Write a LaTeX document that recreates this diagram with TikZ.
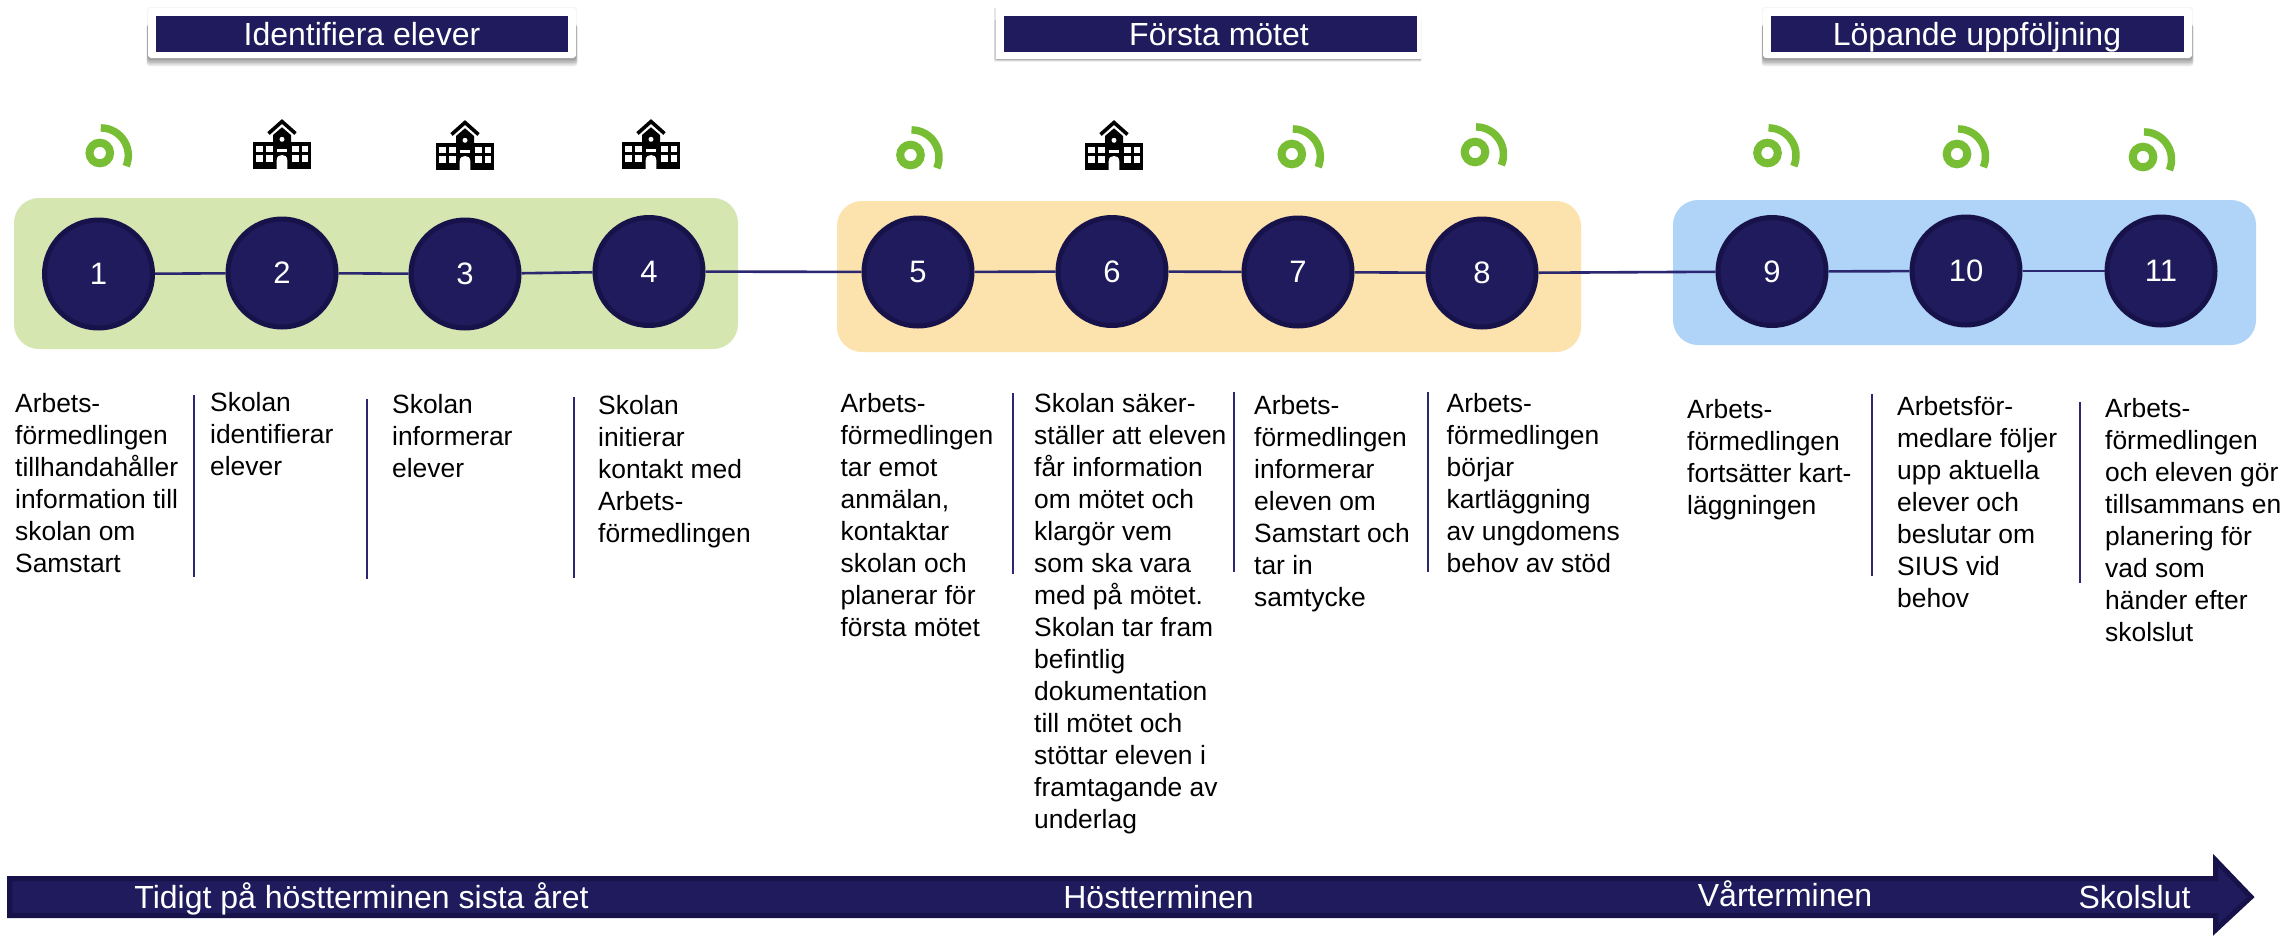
\documentclass[tikz,border=0pt]{standalone}
\usepackage{fontspec}
\setmainfont{Liberation Sans}
\definecolor{navy}{HTML}{1F1B5C}
\definecolor{navydark}{HTML}{17134A}
\definecolor{linenavy}{HTML}{2B2770}
\definecolor{boxgreen}{HTML}{D5E6B0}
\definecolor{boxorange}{HTML}{FCE2AC}
\definecolor{boxblue}{HTML}{B0D3F8}
\definecolor{icongreen}{HTML}{78BE34}
\newcommand{\fl}{\rule{0pt}{24pt}}
\tikzset{
  stepnode/.style={circle,draw=navydark,fill=navy,line width=5pt,minimum size=108pt,inner sep=0pt,text=white,font=\fontsize{31}{36}\selectfont},
  link/.style={draw=linenavy,line width=2.6pt},
  sepline/.style={draw=linenavy,line width=2.2pt},
  band/.style={rounded corners=25pt,draw=none},
  desc/.style={anchor=north west,inner sep=0pt,align=left,text=black,font=\fontsize{26.4}{32}\selectfont},
  titlebar/.style={fill=navy,draw=none,inner sep=0pt,anchor=north west,minimum height=36pt},
  titletext/.style={anchor=base,inner sep=0pt,text=white,font=\fontsize{32}{38}\selectfont},
  arrowtext/.style={anchor=base,inner sep=0pt,text=white,font=\fontsize{32}{38}\selectfont},
  school/.pic={
    \fill[black] (-29,0) rectangle (29,-27.3);
    \fill[black] (-9,-26) -- (-9,-34) -- (0,-41.7) -- (9,-34) -- (9,-26) -- cycle;
    \draw[black,line width=3.6pt] (-13.5,-35.5) -- (0,-47.5) -- (13.5,-35.5);
    \fill[white] (0,-29.7) circle (2.5);
    \fill[white] (-5,-19.7) rectangle (5,-17.3);
    \foreach \wx in {-25.7,-16,10,19.7}{
      \foreach \wy in {-23.3,-14}{
        \fill[white] (\wx,\wy) rectangle ++(6.67,6.67);
      }
    }
    \fill[white] (-5.3,0) -- (-5.3,-8.7) .. controls (-5.3,-12.5) and (-2.9,-14) .. (0,-14) .. controls (2.9,-14) and (5.3,-12.5) .. (5.3,-8.7) -- (5.3,0) -- cycle;
  },
  ringicon/.pic={
    \draw[icongreen,line width=8pt] (0,0) circle (10.3);
    \draw[icongreen,line width=7.5pt] (1,-25.1) arc[start angle=-90,end angle=23,radius=27.5];
  }
}
\begin{document}
\begin{tikzpicture}[x=1pt,y=-1pt]
\useasboundingbox (0,0) rectangle (2280,935);
\fill[white] (0,0) rectangle (2280,935);

% title boxes with soft shadow
\foreach \xa/\xb in {148/576,1763/2192}{
  \foreach \g in {5,4,3,2,1}{
    \fill[black,opacity=.09,rounded corners=3pt] (\xa-\g*.3,24) rectangle (\xb+\g*.3,58+\g*1.6);
  }
  \fill[black,opacity=.04,rounded corners=3pt] (\xa-1,7) rectangle (\xb+1,58);
  \fill[white,rounded corners=3pt] (\xa,8) rectangle (\xb,58);
}
\begin{scope}
  \clip (980,0) rectangle (1421,80);
  \fill[black,opacity=.10] (994,7.5) rectangle (1440,60);
  \foreach \g in {4,3,2,1}{
    \fill[black,opacity=.06] (998-\g*.9,20) rectangle (1440,59+\g*.8);
  }
  \fill[white] (996,8) rectangle (1440,59);
\end{scope}
\node[titlebar,minimum width=412pt] (barA) at (156,16) {};
\node[titlebar,minimum width=413pt] (barB) at (1004,16) {};
\node[titlebar,minimum width=413pt] (barC) at (1771,16) {};
\node[titletext] (ttlA) at (362,45) {Identifiera elever};
\node[titletext] (ttlB) at (1219,45) {Första mötet};
\node[titletext] (ttlC) at (1977,45) {Löpande uppföljning};

% bands
\fill[band,boxgreen] (14,198) rectangle (738,349);
\fill[band,boxorange] (837,201) rectangle (1581,352);
\fill[band,boxblue] (1673,200) rectangle (2256,345);

% icons
\pic at (99.8,153) {ringicon};
\pic at (282,169) {school};
\pic at (465,170) {school};
\pic at (651,169) {school};
\pic at (910.5,155) {ringicon};
\pic at (1114,170) {school};
\pic at (1291.8,154) {ringicon};
\pic at (1475,152) {ringicon};
\pic at (1767.5,153) {ringicon};
\pic at (1957,154) {ringicon};
\pic at (2143,157) {ringicon};

% steps
\node[stepnode] (s1) at (98.5,274) {1};
\node[stepnode] (s2) at (282,273) {2};
\node[stepnode] (s3) at (465,274) {3};
\node[stepnode] (s4) at (649,271.5) {4};
\node[stepnode] (s5) at (918,272) {5};
\node[stepnode] (s6) at (1112,271.5) {6};
\node[stepnode] (s7) at (1298,272) {7};
\node[stepnode] (s8) at (1482,273) {8};
\node[stepnode] (s9) at (1772,271.5) {9};
\node[stepnode] (s10) at (1966,271) {10};
\node[stepnode] (s11) at (2161,271) {11};
\draw[link] (s1) -- (s2);
\draw[link] (s2) -- (s3);
\draw[link] (s3) -- (s4);
\draw[link] (s4) -- (s5);
\draw[link] (s5) -- (s6);
\draw[link] (s6) -- (s7);
\draw[link] (s7) -- (s8);
\draw[link] (s8) -- (s9);
\draw[link] (s9) -- (s10);
\draw[link] (s10) -- (s11);

% descriptions
\node[desc] (d1) at (15,388) {\fl Arbets-\\förmedlingen\\tillhandahåller\\information till\\skolan om\\Samstart};
\node[desc] (d2) at (210,387) {\fl Skolan\\identifierar\\elever};
\node[desc] (d3) at (392,389) {\fl Skolan\\informerar\\elever};
\node[desc] (d4) at (598,390) {\fl Skolan\\initierar\\kontakt med\\Arbets-\\förmedlingen};
\node[desc] (d5) at (840.4,388) {\fl Arbets-\\förmedlingen\\tar emot\\anmälan,\\kontaktar\\skolan och\\planerar för\\första mötet};
\node[desc] (d6) at (1034,388) {\fl Skolan säker-\\ställer att eleven\\får information\\om mötet och\\klargör vem\\som ska vara\\med på mötet.\\Skolan tar fram\\befintlig\\dokumentation\\till mötet och\\stöttar eleven i\\framtagande av\\underlag};
\node[desc] (d7) at (1254,390) {\fl Arbets-\\förmedlingen\\informerar\\eleven om\\Samstart och\\tar in\\samtycke};
\node[desc] (d8) at (1446.5,388) {\fl Arbets-\\förmedlingen\\börjar\\kartläggning\\av ungdomens\\behov av stöd};
\node[desc] (d9) at (1687,394) {\fl Arbets-\\förmedlingen\\fortsätter kart-\\läggningen};
\node[desc] (d10) at (1897,391) {\fl Arbetsför-\\medlare följer\\upp aktuella\\elever och\\beslutar om\\SIUS vid\\behov};
\node[desc] (d11) at (2105,393) {\fl Arbets-\\förmedlingen\\och eleven gör\\tillsammans en\\planering för\\vad som\\händer efter\\skolslut};

% separators
\draw[sepline] (194,395) -- (194,577);
\draw[sepline] (367,399) -- (367,579);
\draw[sepline] (574,397) -- (574,578);
\draw[sepline] (1013,393) -- (1013,574);
\draw[sepline] (1234,392) -- (1234,572);
\draw[sepline] (1428,392) -- (1428,572);
\draw[sepline] (1872,394) -- (1872,576);
\draw[sepline] (2080,402) -- (2080,583);

% timeline arrow
\draw[fill=navy,draw=navydark,line width=5pt,miter limit=10]
  (9.5,878.5) -- (2215.5,878.5) -- (2215.5,860) -- (2251,897) -- (2215.5,930) -- (2215.5,915.5) -- (9.5,915.5) -- cycle;
\node[arrowtext] (t1) at (361.5,908) {Tidigt på höstterminen sista året};
\node[arrowtext] (t2) at (1158.5,908) {Höstterminen};
\node[arrowtext] (t3) at (1785,906) {Vårterminen};
\node[arrowtext] (t4) at (2134.5,908) {Skolslut};
\end{tikzpicture}
\end{document}
